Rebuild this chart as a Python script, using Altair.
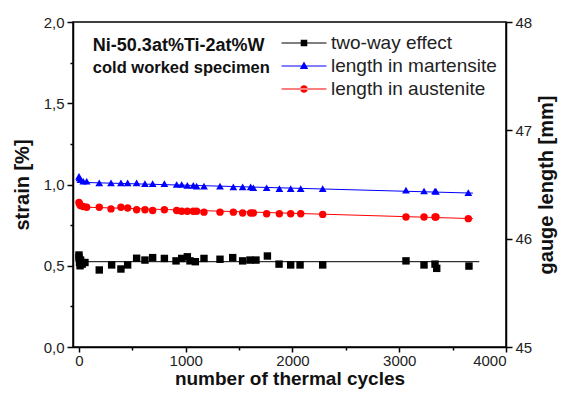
import altair as alt
import pandas as pd

FONT = "Liberation Sans"

# ---------------- data ----------------
series = ["two-way effect", "length in martensite", "length in austenite"]
colors = ["#000000", "#0000ff", "#ff0000"]

tw_cycles = [0, 0, 5, 10, 15, 30, 56, 190, 306, 393, 456, 540, 618, 690, 800,
             909, 962, 1015, 1040, 1090, 1171, 1321, 1440, 1533, 1602, 1658,
             1765, 1874, 1983, 2071, 2283, 3063, 3232, 3335, 3351, 3653]
tw_strain = [0.566, 0.55, 0.52, 0.50, 0.535, 0.51, 0.52, 0.474, 0.505, 0.48,
             0.505, 0.546, 0.535, 0.55, 0.545, 0.53, 0.545, 0.555, 0.53, 0.525,
             0.545, 0.54, 0.55, 0.53, 0.535, 0.535, 0.56, 0.51, 0.505, 0.505,
             0.505, 0.53, 0.505, 0.51, 0.484, 0.498]

len_cycles = [0, 5, 16, 40, 72, 190, 300, 393, 456, 540, 618, 690, 800, 915,
              962, 1015, 1071, 1102, 1171, 1321, 1446, 1533, 1608, 1633, 1758,
              1877, 1983, 2077, 2283, 3063, 3232, 3335, 3344, 3647]
mart_strain = [1.05, 1.04, 1.03, 1.02, 1.02, 1.01, 1.01, 1.01, 1.01, 1.01,
               1.005, 1.005, 1.005, 1.0, 1.0, 0.995, 0.995, 0.99, 0.99, 0.99,
               0.985, 0.985, 0.985, 0.98, 0.98, 0.975, 0.975, 0.975, 0.975,
               0.966, 0.96, 0.96, 0.958, 0.95]
aus_strain = [0.89, 0.88, 0.87, 0.865, 0.86, 0.86, 0.85, 0.86, 0.855, 0.845,
              0.845, 0.84, 0.845, 0.84, 0.835, 0.835, 0.835, 0.835, 0.83, 0.83,
              0.83, 0.825, 0.825, 0.825, 0.82, 0.82, 0.82, 0.82, 0.816, 0.80,
              0.80, 0.80, 0.80, 0.79]

# fitted straight lines (end points)
tw_fit_cycles = [-30, 3750]
tw_fit_strain = [0.525, 0.525]
mart_fit_cycles = [-20, 3690]
mart_fit_strain = [1.014, 0.947]
aus_fit_cycles = [-20, 3690]
aus_fit_strain = [0.862, 0.79]

gauge_ticks = [45, 48]

annot_line1 = "Ni-50.3at%Ti-2at%W"
annot_line2 = "cold worked specimen"

# ---------------- encodings ----------------
x_scale = alt.Scale(domain=[-56, 4000], nice=False)
y_scale = alt.Scale(domain=[0, 2], nice=False)

x_axis = alt.Axis(
    values=[0, 500, 1000, 1500, 2000, 2500, 3000, 3500, 4000],
    labelExpr="datum.value % 1000 == 0 ? datum.label : ''",
    format="d",
    labelOverlap=False,
    tickSize={"condition": {"test": "datum.value % 1000 != 0", "value": 3}, "value": 5},
    labelPadding=1,
    titlePadding=1,
    titleFontSize=19,
)
y_axis = alt.Axis(
    values=[0, 0.25, 0.5, 0.75, 1.0, 1.25, 1.5, 1.75, 2.0],
    labelExpr="round(datum.value*4) % 2 == 0 ? replace(format(datum.value, '.1f'), '.', ',') : ''",
    labelOverlap=False,
    tickSize={"condition": {"test": "round(datum.value*4) % 2 != 0", "value": 3}, "value": 6},
    labelPadding=3,
    titlePadding=11,
)
r_axis = alt.Axis(
    orient="right",
    values=[45, 45.5, 46, 46.5, 47, 47.5, 48],
    format="d",
    labelExpr="datum.value % 1 == 0 ? datum.label : ''",
    labelOverlap=False,
    tickSize={"condition": {"test": "datum.value % 1 != 0", "value": 3}, "value": 6},
    labelPadding=3,
    titlePadding=25,
    titleAngle=270,
)

X = alt.X("cycles:Q", scale=x_scale, axis=x_axis, title="number of thermal cycles")
Y = alt.Y("strain:Q", scale=y_scale, axis=y_axis, title="strain [%]")


def df(c, s):
    return pd.DataFrame({"cycles": c, "strain": s})


layers = []
specs = [
    (tw_cycles, tw_strain, tw_fit_cycles, tw_fit_strain, "square", 55, colors[0]),
    (len_cycles, mart_strain, mart_fit_cycles, mart_fit_strain, "triangle-up", 60, colors[1]),
    (len_cycles, aus_strain, aus_fit_cycles, aus_fit_strain, "circle", 55, colors[2]),
]
for cx, sy, fx, fy, shp, sz, col in specs:
    layers.append(alt.Chart(df(fx, fy)).mark_line(color=col, strokeWidth=1).encode(x=X, y=Y))
    layers.append(
        alt.Chart(df(cx, sy)).mark_point(shape=shp, size=sz, filled=True, color=col, opacity=1)
        .encode(x=X, y=Y)
    )

# legend-only layer with line+marker symbols
line_p = "M-2.25,-0.055H2.25V0.055H-2.25Z"
legend_paths = [
    line_p + "M-0.33,-0.33H0.33V0.33H-0.33Z",
    line_p + "M0,-0.45L0.42,0.3H-0.42Z",
    line_p + "M-0.38,0A0.38,0.38,0,1,0,0.38,0A0.38,0.38,0,1,0,-0.38,0Z",
]
leg = alt.Legend(
    title=None, orient="none", legendX=221, legendY=11, padding=0,
    symbolSize=400, symbolStrokeWidth=0, symbolOpacity=1,
    labelOffset=17, rowPadding=3, labelFontSize=19, labelFont=FONT,
    labelColor="#222222", labelLimit=300,
)
legend_df = pd.DataFrame({"series": series, "cycles": [0, 0, 0], "strain": [0, 0, 0]})
layers.append(
    alt.Chart(legend_df).mark_point(filled=True, opacity=0).encode(
        x=X, y=Y,
        color=alt.Color("series:N", scale=alt.Scale(domain=series, range=colors), legend=leg),
        shape=alt.Shape("series:N", scale=alt.Scale(domain=series, range=legend_paths), legend=leg),
    )
)

# annotation
ann1 = pd.DataFrame({"cycles": [130], "strain": [1.852], "t": [annot_line1]})
ann2 = pd.DataFrame({"cycles": [130], "strain": [1.717], "t": [annot_line2]})
layers.append(alt.Chart(ann1).mark_text(align="left", baseline="middle", font=FONT, fontSize=18,
                                        fontWeight="bold", color="#111111").encode(x=X, y=Y, text="t:N"))
layers.append(alt.Chart(ann2).mark_text(align="left", baseline="middle", font=FONT, fontSize=16.5,
                                        fontWeight="bold", color="#111111").encode(x=X, y=Y, text="t:N"))

inner = alt.layer(*layers)

right = alt.Chart(pd.DataFrame({"gauge": gauge_ticks})).mark_point(opacity=0).encode(
    y=alt.Y("gauge:Q", scale=alt.Scale(domain=[45, 48], nice=False), axis=r_axis,
            title="gauge length [mm]")
)

chart = (
    alt.layer(inner, right)
    .resolve_scale(y="independent")
    .properties(width=433, height=325, autosize="none",
                padding={"left": 65, "top": 14, "right": 53, "bottom": 44})
    .configure_view(stroke="black", strokeWidth=1.5)
    .configure_axis(
        grid=False, domainColor="black", domainWidth=1.5, tickColor="black", tickWidth=1.5,
        labelFont=FONT, labelFontSize=15, labelColor="#222222",
        titleFont=FONT, titleFontSize=20, titleFontWeight="bold", titleColor="#111111",
    )
)

chart.save("out.html", embed_options={"renderer": "svg", "actions": False})
